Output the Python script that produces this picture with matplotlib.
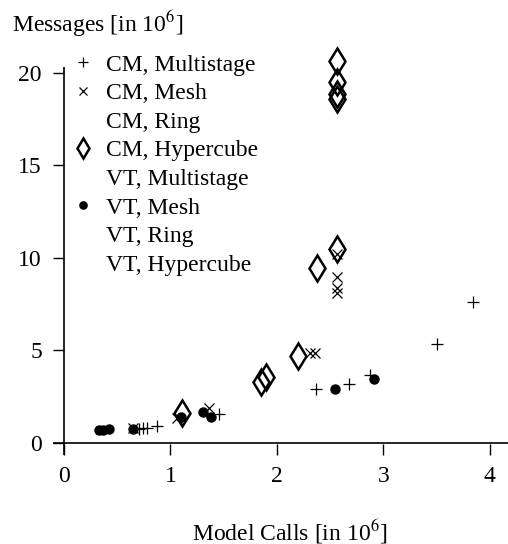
import matplotlib
matplotlib.use('Agg')
import matplotlib.pyplot as plt

plt.rcParams['font.family'] = ['Liberation Serif', 'DejaVu Serif']
plt.rcParams['mathtext.fontset'] = 'stix'

# values (10^6 model calls, 10^6 messages)
cm_multi_x = [0.70, 0.74, 0.78, 0.87, 1.46, 2.37, 2.68, 2.87, 3.50, 3.84]
cm_multi_y = [0.78, 0.80, 0.80, 0.92, 1.56, 2.92, 3.20, 3.68, 5.35, 7.62]

cm_mesh_x = [0.65, 1.06, 1.36, 2.31, 2.36, 2.56, 2.56, 2.56, 2.56]
cm_mesh_y = [0.80, 1.35, 1.90, 4.86, 4.86, 8.10, 8.35, 8.97, 10.2]

cm_hyper_x = [1.11, 1.85, 1.90, 2.20, 2.38, 2.56, 2.56, 2.56, 2.56, 2.56]
cm_hyper_y = [1.60, 3.30, 3.55, 4.70, 9.45, 10.45, 18.55, 18.85, 19.5, 20.65]

vt_mesh_x = [0.33, 0.37, 0.42, 0.65, 1.10, 1.31, 1.38, 2.55, 2.91]
vt_mesh_y = [0.70, 0.70, 0.76, 0.75, 1.40, 1.66, 1.42, 2.92, 3.46]

labels = ['CM, Multistage', 'CM, Mesh', 'CM, Ring', 'CM, Hypercube',
          'VT, Multistage', 'VT, Mesh', 'VT, Ring', 'VT, Hypercube']
x_ticks = [0, 1, 2, 3, 4]
y_ticks = [0, 5, 10, 15, 20]

fig = plt.figure(figsize=(5.08, 5.44), dpi=100)
ax = fig.add_axes([53 / 508, 89 / 544, 455 / 508, 388 / 544])

kw = dict(linestyle='none', color='black', clip_on=False)
ax.plot(cm_multi_x, cm_multi_y, marker='+', markersize=9, markeredgewidth=0.9, label=labels[0], **kw)
ax.plot(cm_mesh_x, cm_mesh_y, marker='x', markersize=7.5, markeredgewidth=0.9, label=labels[1], **kw)
ax.plot([], [], marker='none', label=labels[2], **kw)
ax.plot(cm_hyper_x, cm_hyper_y, marker='d', markersize=13.2, markeredgewidth=1.8,
        markerfacecolor='none', label=labels[3], **kw)
ax.plot([], [], marker='none', label=labels[4], **kw)
ax.plot(vt_mesh_x, vt_mesh_y, marker='o', markersize=6.5, label=labels[5], **kw)
ax.plot([], [], marker='none', label=labels[6], **kw)
ax.plot([], [], marker='none', label=labels[7], **kw)

ax.set_xlim(-0.103, 4.17)
ax.set_ylim(-0.65, 20.3)
for s in ax.spines.values():
    s.set_visible(False)
ax.axhline(0, color='black', linewidth=1.2)
ax.axvline(0, color='black', linewidth=1.2)
ax.set_xticks(x_ticks)
ax.set_yticks(y_ticks)
ax.tick_params(direction='in', length=8, width=1.0, labelsize=17, pad=8)

fig.text(12 / 508, 1 - 32 / 544, 'Messages [in 10$^6$]', fontsize=17, ha='left', va='baseline')
fig.text(290 / 508, 1 - 540 / 544, 'Model Calls [in 10$^6$]', fontsize=17, ha='center', va='baseline')

ax.legend(loc='upper left', bbox_to_anchor=(71 / 508, 1 - 54 / 544), bbox_transform=fig.transFigure,
          frameon=False, fontsize=17, handlelength=1.0, handletextpad=0.5, labelspacing=0.3,
          borderaxespad=0, borderpad=0, markerscale=0.8)

fig.savefig('out.png', dpi=100)
